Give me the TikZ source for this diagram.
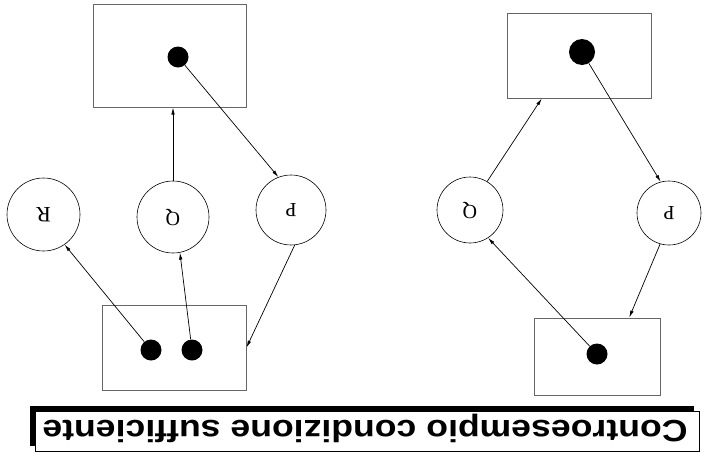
\documentclass[tikz,border=0pt]{standalone}
\usepackage{fontspec}
\setmainfont{Liberation Serif}
\newfontfamily\bannerfont{Liberation Sans}
\usetikzlibrary{arrows.meta,calc}
\begin{document}
\begin{tikzpicture}[x=1pt,y=-1pt,
  boxn/.style={draw=black!60, line width=1pt, rectangle, inner sep=0pt},
  circn/.style={draw, circle, line width=0.6pt, inner sep=0pt, font=\fontsize{20}{20}\selectfont},
  dotn/.style={circle, fill=black, inner sep=0pt},
  arr/.style={-{Latex[length=7pt,width=3.5pt]}, line width=0.7pt}]
\useasboundingbox (0,0) rectangle (709,461);

% left figure
\node[boxn, minimum width=153pt, minimum height=103pt] (LT) at (169.5,55.5) {};
\node[dotn, minimum size=21pt] (LTd) at (178,57) {};
\node[circn, minimum size=73pt, font=\fontsize{22}{22}\selectfont] (LR) at (43.5,214.5) {\rotatebox{180}{R}};
\node[circn, minimum size=72pt] (LQ) at (173,217) {\rotatebox{180}{Q}};
\node[circn, minimum size=70pt] (LP) at (291,210) {\rotatebox{180}{P}};
\node[boxn, minimum width=144pt, minimum height=85pt] (LB) at (174,347.5) {};
\node[dotn, minimum size=21pt] (LBd1) at (151,350) {};
\node[dotn, minimum size=21pt] (LBd2) at (192,350) {};

\draw[arr] (LTd) -- (LP.111);
\draw[arr] (LQ.north) -- (LQ.north |- LT.south);
\draw[arr] (LBd1) -- (LR.-55);
\draw[arr] (LBd2) -- (LQ.-79);
\draw[arr] (LP.-84) -- (LB.east);

% right figure
\node[boxn, minimum width=144pt, minimum height=85pt] (RT) at (579,55.5) {};
\node[dotn, minimum size=26pt] (RTd) at (582,52) {};
\node[circn, minimum size=66pt] (RQ) at (470,210) {\rotatebox{180}{Q}};
\node[circn, minimum size=64pt] (RP) at (669,213) {\rotatebox{180}{P}};
\node[boxn, minimum width=126pt, minimum height=77pt] (RB) at (597,356.5) {};
\node[dotn, minimum size=21pt] (RBd) at (597,354) {};

\draw[arr] (RTd) -- (RP.105);
\draw[arr] (RP.-106) -- ($(RB.north west)!0.754!(RB.north east)$);
\draw[arr] (RQ.59) -- ($(RT.south west)!0.243!(RT.south east)$);
\draw[arr] (RBd) -- (RQ.-57);

% banner
\node[fill=black, inner sep=0pt, minimum width=664pt, minimum height=40pt] (shadow) at (362,426) {};
\node[draw, fill=white, line width=0.8pt, inner sep=0pt, minimum width=664pt, minimum height=40pt] (banner) at (367,431) {};
\node[anchor=base, rotate=180, inner sep=0pt] (title) at (365,420)
  {\scalebox{1.16}[1]{\bannerfont\bfseries\fontsize{30.7}{31}\selectfont Controesempio condizione sufficiente}};
\end{tikzpicture}
\end{document}
